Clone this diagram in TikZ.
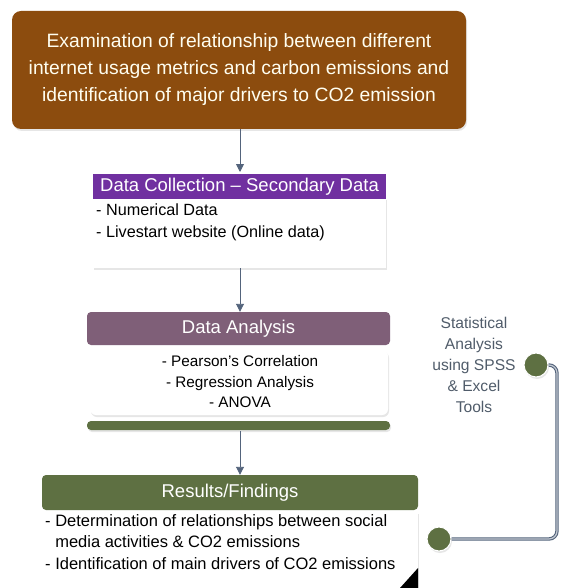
\documentclass[tikz,border=0pt]{standalone}
\usepackage{fontspec}
\setmainfont{Liberation Sans}
\usetikzlibrary{arrows.meta,shadows}
\definecolor{brownbox}{RGB}{140,76,14}
\definecolor{purplehead}{RGB}{112,48,160}
\definecolor{mauvehead}{RGB}{127,95,120}
\definecolor{olive}{RGB}{94,112,66}
\definecolor{slate}{RGB}{84,100,124}
\definecolor{notegray}{RGB}{80,92,106}
\tikzset{
  softshadow/.style={drop shadow={shadow xshift=1pt, shadow yshift=-2pt, opacity=0.16, fill=black!60}},
  titlebox/.style={fill=brownbox, text=white!94!yellow, rounded corners=9pt, align=center,
    font=\fontsize{19.3}{27}\selectfont, inner sep=0pt, softshadow},
  headbar/.style={text=white, inner sep=0pt, font=\fontsize{18.5}{20}\selectfont},
  bodybox/.style={fill=white, inner sep=0pt, softshadow},
  flow/.style={draw=slate, line width=0.9pt, -{Triangle[length=8pt,width=8pt]}},
  dot/.style={circle, fill=olive, draw=white, line width=1pt, minimum size=24pt, inner sep=0pt, softshadow},
  link/.style={draw=slate, line width=1.1pt, double=slate!35!white, double distance=1.2pt, rounded corners=8pt}
}
\begin{document}
\begin{tikzpicture}[x=1pt,y=-1pt]
\useasboundingbox (0,0) rectangle (561,588);
\fill[white] (0,0) rectangle (561,588);

% research aim
\node[titlebox, minimum width=454pt, minimum height=118pt] (aim) at (239,70)
  {Examination of relationship between different\\
   internet usage metrics and carbon emissions and\\
   identification of major drivers to CO2 emission};

% data collection
\node[bodybox, minimum width=293pt, minimum height=70pt] (dcbody) at (239.5,233) {};
\node[headbar, fill=purplehead, minimum width=293pt, minimum height=25pt] (dchead) at (239.5,186.5)
  {Data Collection -- Secondary Data};
\node[anchor=north west, align=left, inner sep=0pt, font=\fontsize{16.2}{21.5}\selectfont] (dctext) at (96,204)
  {- Numerical Data\\- Livestart website (Online data)};

% data analysis
\node[bodybox, rounded corners=6pt, minimum width=298pt, minimum height=65pt] (dabody) at (239,382.5) {};
\node[headbar, fill=mauvehead, rounded corners=4pt, minimum width=303pt, minimum height=33pt] (dahead) at (238.5,328.5)
  {Data Analysis};
\node[align=center, inner sep=0pt, font=\fontsize{15.3}{20.5}\selectfont] (datext) at (240,382)
  {- Pearson's Correlation\\- Regression Analysis\\- ANOVA};
\node[fill=olive, rounded corners=4pt, minimum width=303pt, minimum height=9pt, inner sep=0pt, softshadow] (dabar) at (238.5,425.5) {};

% results
\node[bodybox, minimum width=376pt, minimum height=76pt] (rsbody) at (230,550) {};
\node[headbar, fill=olive, rounded corners=4pt, minimum width=376pt, minimum height=35pt] (rshead) at (230,492.5)
  {Results/Findings};
\node[anchor=north west, align=left, inner sep=0pt, font=\fontsize{16.5}{21.5}\selectfont] (rstext) at (45,514)
  {- Determination of relationships between social\\
   \hphantom{- }media activities \& CO2 emissions\\
   - Identification of main drivers of CO2 emissions};
\fill[black] (418,568) -- (418,588) -- (400,588) -- cycle;

% flow arrows
\draw[flow] (aim.south -| 240,0) -- (240,172);
\draw[flow] (240,268) -- (dahead.north -| 240,0);
\draw[flow] (240,431) -- (rshead.north -| 240,0);

% tools note and its link to the results
\node[align=center, text=notegray, inner sep=0pt, font=\fontsize{15.6}{20.8}\selectfont] (note) at (474,365)
  {Statistical\\Analysis\\using SPSS\\\& Excel\\Tools};
\node[dot] (d1) at (536,365) {};
\node[dot] (d2) at (439,539) {};
\draw[link] (d1.east) -- (557,365) -- (557,539) -- (d2.east);
\end{tikzpicture}
\end{document}
